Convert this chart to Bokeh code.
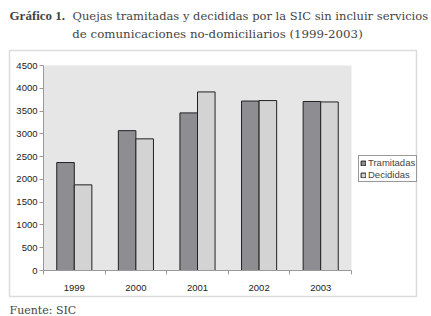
from bokeh.plotting import figure
from bokeh.models import (ColumnDataSource, FixedTicker, Label, BoxAnnotation,
                          Legend, LegendItem, Range1d)
from bokeh.transform import dodge
from bokeh.embed import file_html
from bokeh.resources import INLINE

years = ["1999", "2000", "2001", "2002", "2003"]
tramitadas = [2370, 3070, 3460, 3720, 3710]
decididas = [1880, 2890, 3920, 3730, 3700]
y_ticks = [0, 500, 1000, 1500, 2000, 2500, 3000, 3500, 4000, 4500]

pos = [i + 0.5 for i in range(len(years))]
src = ColumnDataSource(dict(x=pos, t=tramitadas, d=decididas))

# canvas geometry (pixels) of the plot area inside the 431x316 page
W, H = 431, 316
PL, PR, PT, PB = 43, 351, 65, 270
n = len(years)
ymax = y_ticks[-1]
xu = (PR - PL) / n
yu = (PB - PT) / ymax
x_range = Range1d(-PL / xu, n + (W - PR) / xu)
y_range = Range1d(-(H - PB) / yu, ymax + PT / yu)

p = figure(width=W, height=H, output_backend="svg", toolbar_location=None,
           x_range=x_range, y_range=y_range,
           min_border=0, min_border_left=0, min_border_right=0,
           min_border_top=0, min_border_bottom=0)
p.background_fill_color = "white"
p.border_fill_color = "white"
p.outline_line_color = None
p.xgrid.visible = False
p.ygrid.visible = False

# outer frame box and plot-area background
p.add_layout(BoxAnnotation(left=9, right=416, bottom=H - 296, top=H - 50,
                           left_units="screen", right_units="screen",
                           top_units="screen", bottom_units="screen",
                           fill_color=None, line_color="#8c8c8c", line_width=1.5,
                           level="underlay"))
p.add_layout(BoxAnnotation(left=0, right=n, bottom=0, top=ymax,
                           fill_color="#e6e6e6", fill_alpha=1, line_color=None,
                           level="underlay"))

bw = 0.285
r1 = p.vbar(x=dodge("x", -bw / 2, range=p.x_range), top="t", width=bw, source=src,
            fill_color="#8e8e92", line_color="#222222", line_width=1)
r2 = p.vbar(x=dodge("x", bw / 2, range=p.x_range), top="d", width=bw, source=src,
            fill_color="#d3d3d3", line_color="#222222", line_width=1)

font = "Liberation Sans"
p.xaxis.fixed_location = 0
p.yaxis.fixed_location = 0
p.xaxis.bounds = (0, n)
p.yaxis.bounds = (0, ymax)
p.xaxis.ticker = FixedTicker(ticks=pos, minor_ticks=list(range(n + 1)))
p.xaxis.major_label_overrides = {v: y for v, y in zip(pos, years)}
p.xaxis.major_tick_out = 0
p.xaxis.major_tick_in = 0
p.xaxis.minor_tick_out = 4
p.xaxis.minor_tick_in = 0
p.yaxis.ticker = FixedTicker(ticks=y_ticks)
p.yaxis.major_tick_out = 4
p.yaxis.major_tick_in = 0
for ax in (p.xaxis, p.yaxis):
    ax.axis_line_color = "#9a9a9a"
    ax.major_tick_line_color = "#9a9a9a"
    ax.minor_tick_line_color = "#9a9a9a"
    ax.major_label_text_font = font
    ax.major_label_text_font_size = "9.5px"
    ax.major_label_text_color = "#222222"
p.xaxis.major_label_standoff = 10
p.yaxis.major_label_standoff = 2
p.yaxis.minor_tick_line_color = None

legend = Legend(items=[LegendItem(label="Tramitadas", renderers=[r1]),
                       LegendItem(label="Decididas", renderers=[r2])],
                location=(358, H - 182), orientation="vertical",
                label_text_font=font, label_text_font_size="9.5px",
                glyph_width=6, glyph_height=6, label_height=11, label_standoff=2,
                spacing=1, padding=1, margin=0,
                border_line_color="#333333", border_line_width=1,
                background_fill_color="white", background_fill_alpha=1)
p.add_layout(legend)

serif = "DejaVu Serif"
p.add_layout(Label(x=9, y=H - 15, x_units="screen", y_units="screen",
                   text="Gráfico 1.", text_font="Liberation Serif",
                   text_font_style="bold",
                   text_font_size="13px", text_baseline="alphabetic"))
p.add_layout(Label(x=72, y=H - 15, x_units="screen", y_units="screen",
                   text="Quejas tramitadas  y decididas por la SIC sin incluir servicios",
                   text_font=serif, text_font_size="11.5px", text_baseline="alphabetic"))
p.add_layout(Label(x=217, y=H - 33, x_units="screen", y_units="screen",
                   text="de comunicaciones no-domiciliarios (1999-2003)",
                   text_font=serif, text_font_size="11.8px", text_align="center",
                   text_baseline="alphabetic"))
p.add_layout(Label(x=9, y=H - 310, x_units="screen", y_units="screen",
                   text="Fuente: SIC", text_font=serif, text_font_size="11px",
                   text_baseline="alphabetic"))

open("out.html", "w").write(file_html(p, INLINE))
